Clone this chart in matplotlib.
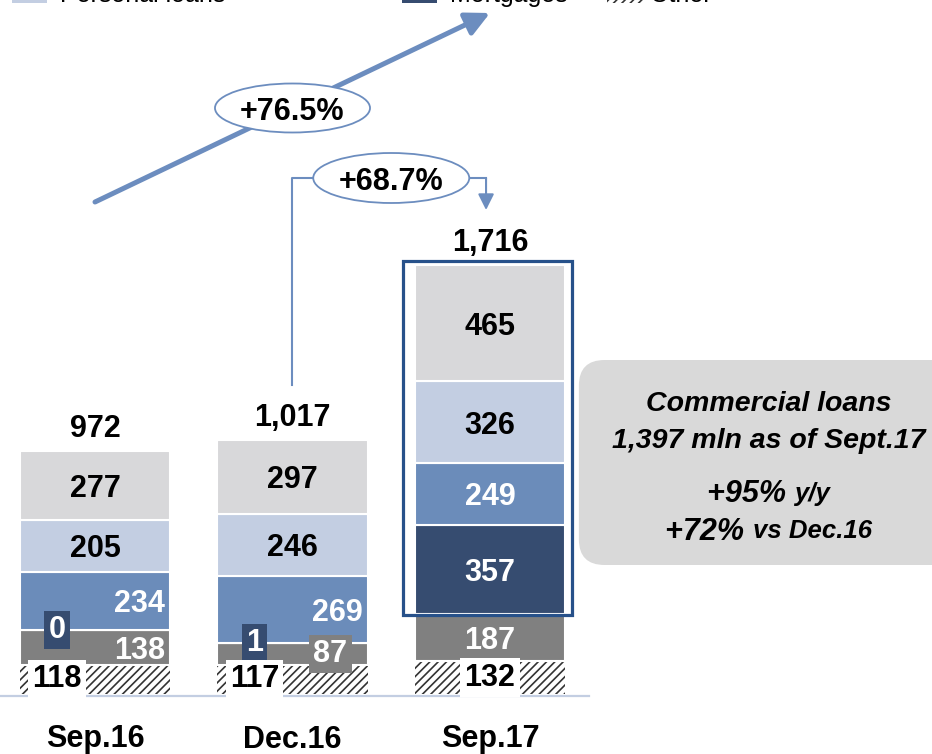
import numpy as np
import matplotlib.pyplot as plt
from matplotlib.patches import Ellipse, Rectangle, FancyBboxPatch

plt.rcParams['font.family'] = ['Liberation Sans', 'DejaVu Sans']
plt.rcParams['hatch.linewidth'] = 1.2

# Loan book by period (mln), stacked bottom -> top
periods = ['Sep.16', 'Dec.16', 'Sep.17']
other = [118, 117, 132]
grey_seg = [138, 87, 187]
mortgages = [0, 1, 357]
blue_seg = [234, 269, 249]
personal_loans = [205, 246, 326]
top_seg = [277, 297, 465]
growth_yy = '+76.5%'
growth_ytd = '+68.7%'
legend_names = ['Personal loans', 'Mortgages', 'Other']

c_top = '#D8D8DA'
c_personal = '#C3CEE2'
c_blue = '#6B8CBA'
c_navy = '#364C70'
c_grey = '#808080'
c_arrow = '#6C8DBF'
c_frame = '#27518A'

W, H = 932, 754
PX_X = 197.5   # px per category
PX_Y = 0.25    # px per mln
fig = plt.figure(figsize=(W / 100, H / 100), dpi=100)
ax = fig.add_axes([0, 0, 1, 1])
ax.set_axis_off()
ax.set_xlim(-95 / PX_X, (W - 95) / PX_X)
ax.set_ylim(-(H - 694) / PX_Y, 694 / PX_Y)

x = np.arange(len(periods))
bw = 0.76
totals = np.array(other) + grey_seg + mortgages + blue_seg + personal_loans + top_seg

# baseline
ax.plot([ax.get_xlim()[0], 2.5], [-6, -6], color=c_personal, lw=1.6, zorder=1)

# stacked bars
bottom = np.zeros(3)
ax.bar(x, other, bw, bottom=bottom, color='white', edgecolor='#333333',
       hatch='////', linewidth=0, zorder=2)
bottoms = {}
bottom += other
for name, vals, col in [('grey', grey_seg, c_grey), ('mort', mortgages, c_navy),
                        ('blue', blue_seg, c_blue), ('pers', personal_loans, c_personal),
                        ('top', top_seg, c_top)]:
    bottoms[name] = bottom.copy()
    ax.bar(x, vals, bw, bottom=bottom, color=col, edgecolor='white',
           linewidth=1.5, zorder=2)
    bottom += vals

fs = 22
lab = dict(fontsize=fs, fontweight='bold', zorder=6)


def boxed(xc, yc, txt, face, tcol):
    ax.text(xc, yc, txt, ha='center', va='center', color=tcol,
            bbox=dict(boxstyle='square,pad=0.14', fc=face, ec='none'), **lab)


off = 38 / PX_X
right_pad = 5 / PX_X
for i in range(3):
    # two upper segments: centered black labels
    for name, vals in [('top', top_seg), ('pers', personal_loans)]:
        ax.text(x[i], bottoms[name][i] + vals[i] / 2, str(vals[i]), ha='center',
                va='center_baseline', color='black', **lab)
    if i < 2:
        for name, vals in [('blue', blue_seg), ('grey', grey_seg)]:
            if vals[i] >= 100:
                ax.text(x[i] + bw / 2 - right_pad, bottoms[name][i] + vals[i] / 2,
                        str(vals[i]), ha='right', va='center_baseline',
                        color='white', **lab)
            else:
                boxed(x[i] + off, bottoms[name][i] + vals[i] / 2, str(vals[i]),
                      c_grey, 'white')
        boxed(x[i] - off, bottoms['mort'][i], str(mortgages[i]), c_navy, 'white')
        boxed(x[i] - off, other[i] / 2, str(other[i]), 'white', 'black')
    else:
        for name, vals in [('blue', blue_seg), ('mort', mortgages), ('grey', grey_seg)]:
            ax.text(x[i], bottoms[name][i] + vals[i] / 2, str(vals[i]), ha='center',
                    va='center_baseline', color='white', **lab)
        boxed(x[i], other[i] / 2, str(other[i]), 'white', 'black')

    ax.annotate(f'{totals[i]:,}', (x[i], totals[i]), xytext=(0, 10),
                textcoords='offset points', ha='center', va='baseline', **lab)
    ax.text(x[i], -168, periods[i], ha='center', va='center_baseline', **lab)

# frame around the commercial part of Sep.17
comm_base = other[2] + grey_seg[2]
commercial = totals[2] - comm_base
ax.add_patch(Rectangle((x[2] - bw / 2 - 0.06, comm_base - 4), bw + 0.095,
                       commercial + 20, fill=False, ec=c_frame, lw=2.3, zorder=5))

# callout
ax.add_patch(FancyBboxPatch((2.45, 516), 2.0, 820,
                            boxstyle='round,pad=0,rounding_size=0.13',
                            mutation_aspect=PX_X / PX_Y,
                            fc='#D9D9D9', ec='none', zorder=1))
cx = 3.41
it = dict(fontweight='bold', fontstyle='italic', va='center_baseline', zorder=6)
ax.text(cx, 1172, 'Commercial loans', fontsize=20.5, ha='center', **it)
ax.text(cx, 1024, f'{commercial:,} mln as of Sept.17', fontsize=20.5, ha='center', **it)

renderer = fig.canvas.get_renderer()


def mixed_line(y, big, small):
    t1 = ax.text(cx, y, big, fontsize=22, ha='left', **it)
    t2 = ax.text(cx, y, small, fontsize=18.5, ha='left', **it)
    w1 = t1.get_window_extent(renderer).width / PX_X
    w2 = t2.get_window_extent(renderer).width / PX_X
    x0 = cx - (w1 + w2) / 2
    t1.set_x(x0)
    t2.set_x(x0 + w1)


mixed_line(812, '+95% ', 'y/y')
mixed_line(664, '+72% ', 'vs Dec.16')

# year-on-year arrow
ax.annotate('', xy=(2.0, 2724), xytext=(0, 1968),
            arrowprops=dict(arrowstyle='-|>', color=c_arrow, lw=3.6,
                            mutation_scale=36, shrinkA=0, shrinkB=0), zorder=3)
ax.add_patch(Ellipse((1.0, 2344), 0.785, 196, fc='white', ec=c_arrow, lw=1.3, zorder=4))
ax.text(1.0, 2344, growth_yy, ha='center', va='center_baseline', **lab)

# year-to-date bracket
yb = 2064
ax.plot([1.0, 1.0, 1.98], [totals[1] + 220, yb, yb], color=c_arrow, lw=1.5, zorder=3)
ax.annotate('', xy=(1.98, 1936), xytext=(1.98, yb),
            arrowprops=dict(arrowstyle='-|>', color=c_arrow, lw=1.5,
                            mutation_scale=24, shrinkA=0, shrinkB=0), zorder=3)
ax.add_patch(Ellipse((1.5, yb), 0.79, 200, fc='white', ec=c_arrow, lw=1.3, zorder=4))
ax.text(1.5, yb, growth_ytd, ha='center', va='center_baseline', **lab)

# legend strip, running off the top edge
leg_y = 1 - 3 / H
for (x0, x1), face, hatch, name, tx in [((12, 47), c_personal, None, legend_names[0], 60),
                                        ((402, 437), c_navy, None, legend_names[1], 450),
                                        ((607, 643), 'white', '////', legend_names[2], 650)]:
    fig.patches.append(Rectangle((x0 / W, leg_y), (x1 - x0) / W, 20 / H,
                                 transform=fig.transFigure, fc=face,
                                 ec='#333333' if hatch else 'none', hatch=hatch, lw=0))
    fig.text(tx / W, 1 - 2 / H, name, fontsize=18, va='baseline', ha='left')

fig.savefig('out.png', dpi=100)
